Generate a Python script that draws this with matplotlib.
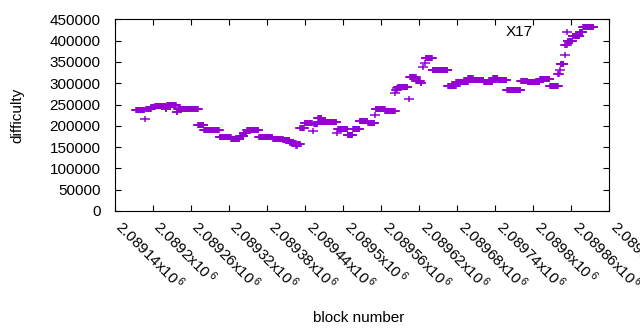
import numpy as np
import matplotlib
matplotlib.use("Agg")
import matplotlib.pyplot as plt
from matplotlib.path import Path
from matplotlib.transforms import ScaledTranslation

plt.rcParams['font.family'] = ['Liberation Sans', 'DejaVu Sans']
plt.rcParams['mathtext.fontset'] = 'custom'
plt.rcParams['mathtext.rm'] = 'Liberation Sans'
plt.rcParams['mathtext.it'] = 'Liberation Sans:italic'

# Run-length data: (first block, last block, difficulty)
seg_start = [2089174, 2089188, 2089190, 2089198, 2089204, 2089221, 2089223, 2089238,
             2089240, 2089272, 2089281, 2089306, 2089324, 2089338, 2089344, 2089349,
             2089368, 2089390, 2089406, 2089417, 2089427, 2089429, 2089433, 2089440,
             2089453, 2089455, 2089461, 2089467, 2089491, 2089493, 2089508, 2089516,
             2089527, 2089540, 2089551, 2089552, 2089567, 2089583, 2089584, 2089586,
             2089587, 2089604, 2089606, 2089616, 2089623, 2089627, 2089629, 2089631,
             2089642, 2089666, 2089679, 2089698, 2089706, 2089723, 2089737, 2089745,
             2089759, 2089781, 2089792, 2089811, 2089827, 2089840, 2089843, 2089844,
             2089850, 2089851, 2089854, 2089855, 2089863, 2089874, 2089879]
seg_end = [2089187, 2089188, 2089197, 2089203, 2089220, 2089222, 2089237, 2089239,
           2089271, 2089280, 2089305, 2089323, 2089337, 2089343, 2089348, 2089367,
           2089389, 2089405, 2089416, 2089426, 2089428, 2089432, 2089439, 2089451,
           2089453, 2089460, 2089466, 2089490, 2089491, 2089507, 2089515, 2089526,
           2089539, 2089550, 2089551, 2089566, 2089582, 2089583, 2089585, 2089586,
           2089602, 2089604, 2089615, 2089622, 2089624, 2089627, 2089629, 2089641,
           2089665, 2089678, 2089697, 2089705, 2089722, 2089736, 2089744, 2089758,
           2089780, 2089791, 2089810, 2089826, 2089839, 2089841, 2089843, 2089848,
           2089850, 2089853, 2089854, 2089862, 2089873, 2089878, 2089895]
seg_value = [236000, 215000, 240000, 244000, 247000, 239000, 248000, 232000,
             239000, 201000, 190000, 173000, 168000, 176000, 184000, 190000,
             173000, 170000, 167000, 160000, 152000, 158000, 196000, 207000,
             187000, 205000, 218000, 210000, 182000, 193000, 179000, 193000,
             212000, 207000, 225000, 240000, 234000, 277000, 283000, 289000,
             290000, 263000, 315000, 305000, 300000, 337000, 347000, 360000,
             330000, 294000, 302000, 312000, 308000, 303000, 312000, 307000,
             285000, 306000, 302000, 310000, 294000, 322000, 330000, 345000,
             366000, 390000, 420000, 400000, 410000, 420000, 432000]

x_ticks = [2089140, 2089200, 2089260, 2089320, 2089380, 2089440, 2089500,
           2089560, 2089620, 2089680, 2089740, 2089800, 2089860, 2089920]
x_tick_labels = ["2.08914", "2.0892", "2.08926", "2.08932", "2.08938", "2.08944",
                 "2.0895", "2.08956", "2.08962", "2.08968", "2.08974", "2.0898",
                 "2.08986", "2.08992"]
y_ticks = [0, 50000, 100000, 150000, 200000, 250000, 300000, 350000, 400000, 450000]

blocks = np.concatenate([np.arange(s, e + 1) for s, e in zip(seg_start, seg_end)])
diffs = np.concatenate([np.full(e - s + 1, v) for s, e, v in zip(seg_start, seg_end, seg_value)])

plus = Path([(-1, 0), (1, 0), (0, -0.75), (0, 0.75)],
            [Path.MOVETO, Path.LINETO, Path.MOVETO, Path.LINETO])

fig = plt.figure(figsize=(6.4, 3.3), dpi=100)
ax = fig.add_axes([114.5 / 640, 1 - 211 / 330, 494.5 / 640, 191.7 / 330])
ax.plot(blocks, diffs, linestyle='none', marker=plus, markersize=6.5,
        markeredgewidth=1.1, color='#9400D3')

ax.set_xlim(x_ticks[0], x_ticks[-1])
ax.set_ylim(0, 450000)
ax.set_yticks(y_ticks)
ax.set_yticklabels([str(v) for v in y_ticks])
ax.set_xticks(x_ticks)
ax.set_xticklabels([l + r"x10$\,^{\mathrm{6}}$" for l in x_tick_labels],
                   rotation=-45, ha='left', va='top', rotation_mode='anchor')
ax.tick_params(direction='in', top=True, right=True, length=4, width=0.8,
               labelsize=11, colors='black')
ax.tick_params(axis='y', pad=10)
ax.tick_params(axis='x', pad=4.5)
offset = ScaledTranslation(11 / 100, 0, fig.dpi_scale_trans)
for lab in ax.get_xticklabels():
    lab.set_transform(lab.get_transform() + offset)
for sp in ax.spines.values():
    sp.set_linewidth(0.8)

ax.text((519 - 114.5) / 494.5, 1 - (32 - 19.3) / 191.7, "X17", transform=ax.transAxes,
        ha='center', va='center', fontsize=11)
fig.text(17 / 640, 1 - 115 / 330, "difficulty", rotation=90, ha='center', va='center', fontsize=11)
fig.text(359 / 640, 1 - 318 / 330, "block number", ha='center', va='center', fontsize=11)

fig.savefig("out.png", dpi=100)
